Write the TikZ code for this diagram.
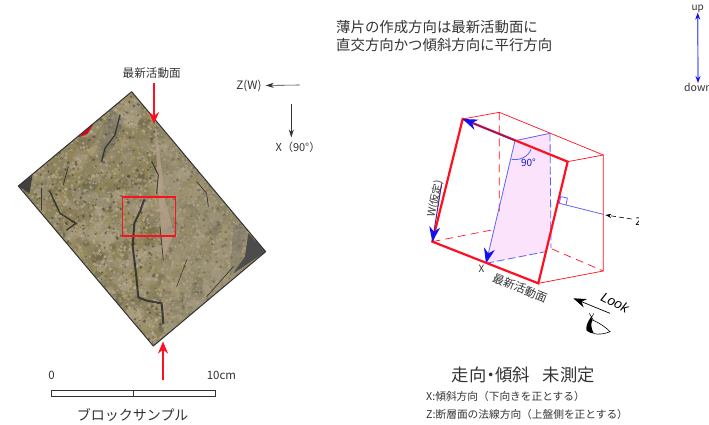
\documentclass[tikz,border=0pt]{standalone}
\usepackage{fontspec}
\setmainfont{Liberation Sans}
\newfontfamily\cjk{Noto Sans CJK JP}
\usetikzlibrary{arrows.meta}
\definecolor{ink}{HTML}{333333}
\definecolor{fred}{HTML}{FF1020}
\definecolor{fblue}{HTML}{1010F0}
\definecolor{fbluel}{HTML}{6060F8}
\definecolor{fpink}{HTML}{FBE3FB}
\definecolor{purp}{HTML}{602090}
\definecolor{rockA}{HTML}{8C8260}
\definecolor{rockB}{HTML}{A09680}
\definecolor{rband}{HTML}{BCA490}
\definecolor{r1}{HTML}{B5A77F}
\definecolor{r2}{HTML}{6F6648}
\definecolor{r3}{HTML}{A89F8C}
\definecolor{r4}{HTML}{9A8B55}
\definecolor{r5}{HTML}{4F4A3A}
\definecolor{r6}{HTML}{BDB09A}
\pgfmathdeclarerandomlist{rockcols}{{r1}{r2}{r3}{r4}{r5}{r6}{r1}{r3}{r4}{r6}}
\tikzset{
  lbl/.style={font=\cjk\fontsize{#1}{#1}\selectfont,text=ink,inner sep=0pt},
  redarrow/.style={draw=fred,fill=fred,line width=2pt,-{Stealth[length=12pt,width=10pt]}},
  thinarrow/.style={draw=ink,line width=.6pt,-{Stealth[length=8pt,width=5pt]}},
  frontedge/.style={draw=fred,line width=2.2pt,line cap=round},
  backedge/.style={draw=fred,line width=.7pt},
  hiddenedge/.style={backedge,dash pattern=on 8pt off 5pt},
  blueline/.style={draw=fbluel,line width=.8pt},
  bluedash/.style={blueline,dash pattern=on 8pt off 3pt},
  bluetip/.style={-{Stealth[length=15pt,width=11pt,color=fblue]}},
  crack/.style={draw=black!85,line cap=round,line join=round,opacity=.8},
  scalebar/.style={draw=ink,line width=.7pt}
}
\begin{document}
\begin{tikzpicture}[x=1pt,y=-1pt]
\useasboundingbox (0,0) rectangle (709,425);
% ---- rock sample ----
\begin{scope}[shift={(0,60)},scale=1/3]
  \coordinate (ra) at (395,95);
  \coordinate (rb) at (797,575);
  \coordinate (rc) at (460,858);
  \coordinate (rd) at (55,378);
  \begin{scope}
    \clip (ra) -- (rb) -- (rc) -- (rd) -- cycle;
    \fill[rockA] (ra) -- (rb) -- (rc) -- (rd) -- cycle;
    \pgfmathsetseed{4711}
    \foreach \i in {1,...,450}{
      \pgfmathsetmacro{\uu}{rnd}
      \pgfmathsetmacro{\vv}{rnd}
      \pgfmathsetmacro{\xx}{395+\uu*402-\vv*340}
      \pgfmathsetmacro{\yy}{95+\uu*480+\vv*283}
      \pgfmathsetmacro{\rr}{8+rnd*16}
      \pgfmathrandomitem{\cc}{rockcols}
      \fill[\cc,opacity=.3] (\xx,\yy) circle[radius=\rr];
    }
    \foreach \i in {1,...,3200}{
      \pgfmathsetmacro{\uu}{rnd}
      \pgfmathsetmacro{\vv}{rnd}
      \pgfmathsetmacro{\xx}{395+\uu*402-\vv*340}
      \pgfmathsetmacro{\yy}{95+\uu*480+\vv*283}
      \pgfmathsetmacro{\rr}{1.5+rnd*4}
      \pgfmathrandomitem{\cc}{rockcols}
      \fill[\cc,opacity=.65] (\xx,\yy) circle[radius=\rr];
    }
    % lighter block right of the fault
    \fill[rockB,opacity=.35] (465,190) -- (470,330) -- (490,560) -- (490,830) -- (rc) -- (rb) -- (ra) -- cycle;
    % fault band
    \fill[rband,opacity=.65] (465,195) -- (478,270) -- (495,420) -- (522,520) -- (490,600) -- (475,400) -- cycle;
    % dark mottling
    \fill[black!60,opacity=.35] (330,150) -- (375,175) -- (345,250) -- (300,310) -- (290,270) -- cycle;
    \fill[black!60,opacity=.3] (700,490) -- (735,505) -- (720,620) -- (690,650) -- cycle;
    % dark corners
    \fill[black!75] (55,378) -- (98,345) -- (88,400) -- cycle;
    \fill[black!70] (797,575) -- (745,520) -- (735,590) -- (700,640) -- cycle;
    \fill[fred!80!black] (235,232) -- (285,185) -- (262,222) -- cycle;
    % cracks
    \draw[crack,line width=2pt] (432,420) -- (420,455) -- (403,490) -- (398,560) -- (408,640) -- (415,712) -- (440,722) -- (485,730) -- (490,790);
    \draw[crack,line width=1.3pt] (360,165) -- (345,225) -- (315,265) -- (305,305);
    \draw[crack,line width=1pt] (455,305) -- (475,345) -- (470,400);
    \draw[crack,line width=1.5pt] (150,395) -- (180,460) -- (228,490) -- (200,510);
    \draw[crack,line width=.8pt] (205,320) -- (190,375);
    \draw[crack,line width=.7pt] (125,385) -- (125,450);
    \draw[crack,line width=.7pt] (590,365) -- (620,400) -- (625,440);
    \draw[crack,line width=.7pt] (480,500) -- (490,600);
    \draw[crack,line width=.6pt] (560,600) -- (530,680);
    \draw[crack,line width=.7pt] (700,620) -- (620,710);
  \end{scope}
  \draw[black!80,line width=1pt,line join=round] (ra) -- (rb) -- (rc) -- (rd) -- cycle;
\end{scope}
\node[draw=fred,line width=1.1pt,minimum width=53pt,minimum height=39pt,inner sep=0pt] (window) at (148.8,216.5) {};
% ---- markers on the rock ----
\coordinate (topstart) at (154,83.5);
\coordinate (topend) at (154,124);
\coordinate (botstart) at (163,380);
\coordinate (botend) at (163,341.5);
\draw[redarrow] (topstart) -- (topend);
\draw[redarrow] (botstart) -- (botend);
\node[lbl=11.6] (faultlabel) at (151.7,72.7) {最新活動面};
% ---- orientation ----
\coordinate (zstart) at (299.5,85);
\node[lbl=11.6] (zw) at (249,85.5) {Z(W)};
\draw[thinarrow,shorten >=4pt] (zstart) -- (zw.east);
\coordinate (xstart) at (291.3,104);
\coordinate (xend) at (291.3,137.5);
\node[lbl=11] (xn) at (298,147.5) {X（90°）};
\draw[thinarrow] (xstart) -- (xend);
% ---- top text ----
\node[lbl=14.4,anchor=west] (note1) at (336,27) {薄片の作成方向は最新活動面に};
\node[lbl=14.4,anchor=west] (note2) at (336,45.5) {直交方向かつ傾斜方向に平行方向};
% ---- up/down ----
\node[lbl=10] (up) at (697.7,8.5) {up};
\node[lbl=10.5] (down) at (698,87.5) {down};
\draw[draw=fbluel,line width=1.2pt,{Stealth[length=7pt,width=5pt,color=fblue]}-{Stealth[length=7pt,width=5pt,color=fblue]}] (up.south) -- (down.north);
% ---- block diagram ----
\begin{scope}[shift={(400,100)},scale=1/3]
  \coordinate (a) at (188,57);
  \coordinate (b) at (503,185);
  \coordinate (c) at (415,550);
  \coordinate (d) at (97,425);
  \coordinate (a2) at (298,37);
  \coordinate (b2) at (610,165);
  \coordinate (c2) at (610,513);
  \coordinate (p1) at (345,122);
  \coordinate (p2) at (450,100);
  \coordinate (p3) at (452,396);
  \coordinate (p3b) at (453,445);
  \coordinate (p4) at (437,455);
  \coordinate (p5) at (258,490);
  \coordinate (normin) at (478,310);
  \coordinate (normout) at (610,343);
  \fill[fpink] (p1) -- (p2) -- (p3) -- (p4) -- (p5) -- cycle;
  \draw[hiddenedge] (a2) -- (298,335);
  \draw[hiddenedge] (d) -- (285,388);
  \draw[hiddenedge] (456,447) -- (c2);
  \draw[backedge] (a) -- (a2) -- (b2) -- (c2) -- (c);
  \draw[backedge] (b) -- (b2);
  \draw[blueline] (p1) -- (p2);
  \draw[bluedash] (p2) -- (p3b);
  \draw[bluedash] (p5) -- (p4);
  \draw[blueline,bluetip] (p1) -- (p5);
  \draw[blueline] (335,178) .. controls (360,182) and (385,170) .. (393,148);
  \draw[frontedge] (a) -- (b) -- (c) -- (d) -- cycle;
  \draw[draw=purp,line width=1pt,bluetip] (p1) -- (a);
  \draw[draw=purp,line width=1pt,bluetip] (125,250) -- (d);
  \draw[blueline] (normin) -- (normout);
  \draw[blueline] (normin) -- (482,290) -- (502,294) -- (498,315);
  \coordinate (zfree) at (695,357);
  \coordinate (zhit) at (616,345);
  \draw[draw=black,line width=.6pt,dash pattern=on 5pt off 3pt,-{Stealth[length=6pt,width=4pt]}] (zfree) -- (zhit);
  \coordinate (lookstart) at (630,640);
  \coordinate (lookend) at (520,595);
  \draw[draw=black,line width=.7pt,-{Stealth[length=13pt,width=9pt]}] (lookstart) -- (lookend);
  % eye
  \fill[black] (572,652) .. controls (562,668) and (556,682) .. (560,692) .. controls (568,698) and (575,700) .. (582,701) .. controls (572,685) and (572,668) .. (578,660) -- cycle;
  \draw[black,line width=.6pt] (578,660) .. controls (600,670) and (618,682) .. (630,695) .. controls (615,702) and (595,704) .. (582,701);
  \draw[black,line width=.5pt] (568,640) -- (580,660) (582,640) -- (570,660);
\end{scope}
\node[lbl=10,text=fblue!80!ink] (ninety) at (528.5,163) {90°};
\node[lbl=10.5,rotate=78] (wlabel) at (435,199) {W(仮定)};
\node[lbl=10] (xlabel) at (481.5,269) {X};
\node[lbl=11.5,rotate=-22] (facelabel) at (520,288) {最新活動面};
\node[font=\itshape\fontsize{13.5}{13.5}\selectfont,text=black,inner sep=0pt,rotate=-27] (look) at (615,302.5) {Look};
\begin{scope}
  \clip (625,205) rectangle (638.5,240);
  \node[font=\fontsize{11}{11}\selectfont,text=black,inner sep=0pt] (zcut) at (639,222) {Z};
\end{scope}
% ---- scale ----
\coordinate (s0) at (51.7,390);
\coordinate (s1) at (133.3,390);
\coordinate (s2) at (215,396);
\draw[scalebar] (s0) rectangle (s2);
\draw[scalebar] (s1) -- (133.3,396);
\begin{scope}
  \clip (30,365) rectangle (250,379.5);
  \node[lbl=11.5] (zero) at (51.5,375.5) {0};
  \node[lbl=11.5] (ten) at (221.5,375.5) {10cm};
\end{scope}
\node[lbl=14] (sample) at (132.7,415) {ブロックサンプル};
% ---- bottom text ----
\node[lbl=17.3] (strike) at (523.3,374.5) {走向\kern-.25em・\kern-.25em傾斜\hspace{13pt}未測定};
\node[lbl=10.7,anchor=west] (xdesc) at (426,396.5) {X:傾斜方向（下向きを正とする）};
\node[lbl=10.7,anchor=west] (zdesc) at (426,414) {Z:断層面の法線方向（上盤側を正とする）};
\end{tikzpicture}
\end{document}
